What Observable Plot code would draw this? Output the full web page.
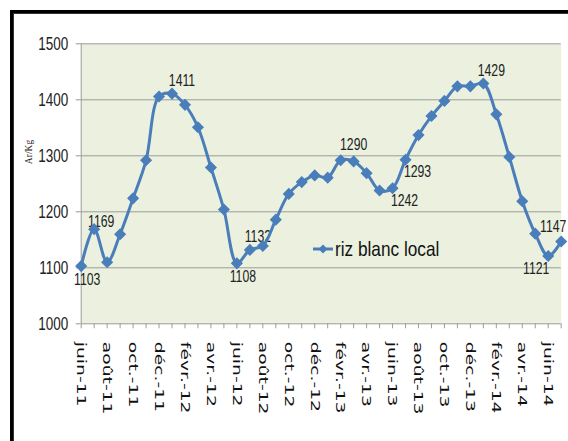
<!DOCTYPE html>
<html>
<head>
<meta charset="utf-8">
<script src="https://cdn.jsdelivr.net/npm/d3@7"></script>
<script src="https://cdn.jsdelivr.net/npm/@observablehq/plot@0.6"></script>
<style>
  body { margin: 0; background: #fff; }
  #wrap { position: relative; width: 568px; height: 441px; overflow: hidden; background: #fff; }
  #wrap > svg { position: absolute; left: 0; top: 0; }
  .frameOuter { position: absolute; left: 10px; top: 10px; width: 700px; height: 600px;
    border-left: 3px solid #000; border-top: 3px solid #000; }
  .frameInner { position: absolute; left: 13px; top: 13px; width: 700px; height: 600px;
    border-left: 1px solid #333; border-top: 1px solid #333; }
  .ytitle { position: absolute; left: 29px; top: 152px; transform: translate(-50%,-50%) rotate(-90deg);
    font-family: "Liberation Serif", serif; font-size: 9.5px; color: #222; white-space: nowrap; }
  .legend { position: absolute; left: 312px; top: 237px; display: flex; align-items: center;
    font-family: "Liberation Sans", sans-serif; font-size: 21px; color: #111; white-space: nowrap; }
  .legend span { display: inline-block; transform: scaleX(0.82); transform-origin: left center; }
</style>
</head>
<body>
<div id="wrap">
  <div class="frameOuter"></div>
  <div class="frameInner"></div>
</div>
<script>
const months = ["juin-11","juil.-11","août-11","sept.-11","oct.-11","nov.-11","déc.-11","janv.-12","févr.-12","mars-12","avr.-12","mai-12","juin-12","juil.-12","août-12","sept.-12","oct.-12","nov.-12","déc.-12","janv.-13","févr.-13","mars-13","avr.-13","mai-13","juin-13","juil.-13","août-13","sept.-13","oct.-13","nov.-13","déc.-13","janv.-14","févr.-14","mars-14","avr.-14","mai-14","juin-14","juil.-14"];
const prices = [1103,1169,1110,1160,1224,1292,1406,1411,1391,1351,1279,1204,1108,1132,1139,1186,1232,1253,1265,1261,1292,1290,1269,1238,1242,1293,1337,1371,1398,1424,1424,1429,1374,1298,1219,1161,1121,1147];
const labeledIdx = [0,1,7,12,13,21,24,25,31,36,37];
const labelSide = ["below","above","aboveR","below","aboveHi","aboveC","belowR","belowR","aboveHi","belowL","aboveL"];
const yTicks = [1000,1100,1200,1300,1400,1500];
const seriesName = "riz blanc local";
const yTitle = "Ar/Kg";

const data = prices.map((v, i) => ({i, v, m: months[i]}));
const offsets = {
  below: [6, 13], above: [7, -8], aboveHi: [8, -13], aboveR: [10, -13], aboveC: [0, -17],
  belowR: [12, 12], belowL: [-12, 13], aboveL: [-8, -15]
};
const labels = labeledIdx.map((i, k) => ({i, v: prices[i], dx: offsets[labelSide[k]][0], dy: offsets[labelSide[k]][1]}));

const blue = "#4A7EBB";
const gray = "#9C9C9C";
const numFont = "'Liberation Sans', sans-serif";

const chart = Plot.plot({
  width: 568, height: 441,
  marginLeft: 80.7, marginRight: 7.3, marginTop: 43.3, marginBottom: 117.7,
  style: {background: "transparent", overflow: "visible"},
  x: {type: "linear", domain: [0, months.length - 1]},
  y: {domain: [1000, 1500]},
  marks: [
    Plot.frame({fill: "#EBF1DE", stroke: null}),
    Plot.gridY(yTicks.slice(1), {stroke: gray, strokeOpacity: 1, strokeWidth: 1}),
    Plot.ruleY([1000], {stroke: gray}),
    Plot.ruleX([0], {stroke: gray}),
    Plot.axisY({ticks: yTicks, tickSize: 5, tickPadding: 8, label: null, stroke: gray,
      tickFormat: d => String(d), fontSize: 18, fontFamily: numFont, fill: "#222"}),
    Plot.axisX({ticks: d3.range(months.length), tickSize: 5, tickFormat: () => "", label: null, stroke: gray}),
    ...labels.map(d => Plot.text([d], {x: "i", y: "v", text: d => String(d.v), dx: d.dx, dy: d.dy,
      fontSize: 17, fontFamily: numFont, fill: "#222"})),
    Plot.line(data, {x: "i", y: "v", stroke: blue, strokeWidth: 3, curve: "catmull-rom"}),
    Plot.dot(data, {x: "i", y: "v", symbol: "diamond2", r: 4.5, fill: blue, stroke: blue}),
    Plot.axisX({ticks: d3.range(0, months.length, 2), tickSize: 0, tickPadding: 18,
      tickFormat: i => months[i], tickRotate: 90, label: null, fontSize: 13,
      fontFamily: "'DejaVu Sans', sans-serif", fill: "#111"})
  ]
});

// condense a text horizontally about its anchor point
function condense(node, sx) {
  const t = node.getAttribute("transform") || "";
  const x = +node.getAttribute("x") || 0, y = +node.getAttribute("y") || 0;
  node.setAttribute("transform", `${t} translate(${x},${y}) scale(${sx},1) translate(${-x},${-y})`);
}
const root = d3.select(chart);
root.selectAll("g[aria-label='y-axis tick label'] text").each(function() { condense(this, 0.75); });
root.selectAll("g[aria-label='text'] text").each(function() { condense(this, 0.72); });
// stretch the rotated month labels along their reading direction
root.selectAll("g[aria-label='x-axis tick label']").filter((d, k, n) => k === n.length - 1)
  .selectAll("text").each(function() {
    const t = this.getAttribute("transform") || "";
    this.setAttribute("transform", t + " scale(1.44,1)");
  });

const wrap = document.getElementById("wrap");
wrap.appendChild(chart);

const yt = document.createElement("div");
yt.className = "ytitle";
yt.textContent = yTitle;
wrap.appendChild(yt);

const lg = document.createElement("div");
lg.className = "legend";
lg.innerHTML = `<svg width="22" height="12" style="margin-right:1px"><line x1="1" x2="21" y1="6" y2="6" stroke="${blue}" stroke-width="3"/><path d="M11,1.5 L15.5,6 L11,10.5 L6.5,6 Z" fill="${blue}"/></svg><span>${seriesName}</span>`;
wrap.appendChild(lg);
</script>
</body>
</html>
